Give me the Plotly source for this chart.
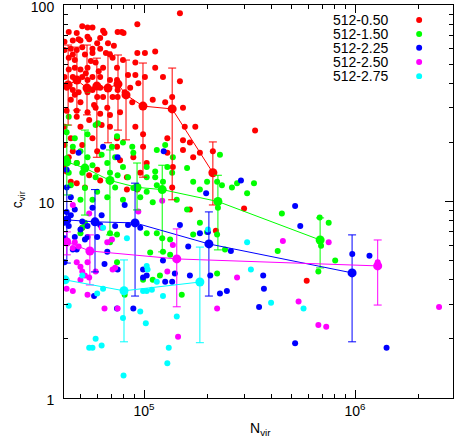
import plotly.graph_objects as go

labels = ["512-0.50", "512-1.50", "512-2.25", "512-2.50", "512-2.75"]
colors = ["#ff0000", "#00ff00", "#0000ff", "#ff00ff", "#00ffff"]

# ---- individual haloes (N_vir, c_vir) ----
red_n = [5.1e4, 5.4e4, 5.7e4, 4.4e4, 4.8e4, 6.4e4, 6.5e4, 7.5e4, 7.85e4, 8.0e4, 9.3e4, 1.48e5,
         4.2e4, 4.6e4, 5.0e4, 5.4e4, 5.5e4, 6.2e4, 6.75e4, 4.2e4, 4.5e4, 4.8e4, 5.1e4, 5.7e4,
         6.0e4, 6.2e4, 4.6e4, 5.25e4, 5.7e4, 9.3e4, 1.01e5, 1.13e5, 7.95e4, 7.1e4, 4.4e4, 4.7e4,
         5.0e4, 5.4e4, 6.4e4, 9.1e4, 7.45e4, 4.2e4, 4.6e4, 5.1e4, 5.4e4, 5.7e4, 6.2e4, 6.9e4,
         7.45e4, 9.1e4, 1.01e5, 1.13e5, 1.23e5, 1.48e5, 4.3e4, 4.6e4, 4.9e4, 5.4e4, 5.7e4, 6.2e4,
         6.75e4, 7.5e4, 8.1e4, 9.4e4, 4.5e4, 5.0e4, 6.0e4, 6.4e4, 7.1e4, 7.5e4, 8.8e4, 1.10e5,
         1.26e5, 1.36e5, 1.53e5, 4.3e4, 4.8e4, 5.4e4, 6.2e4, 6.9e4, 7.7e4, 9.1e4, 4.8e4, 5.5e4,
         6.3e4, 4.2e4, 5.0e4, 6.9e4, 1.56e5, 1.75e5, 7.45e4, 9.9e4, 4.5e4, 5.7e4, 1.29e5, 1.53e5,
         1.65e5, 7.45e4, 4.6e4, 6.0e4, 9.9e4, 1.29e5, 1.53e5, 1.84e5, 4.4e4, 7.7e4, 8.9e4, 1.71e5,
         4.8e4, 6.0e4, 1.03e5, 1.37e5, 5.5e4, 8.3e4, 9.6e4, 4.3e4, 4.8e4, 6.2e4, 8.3e4, 9.3e4,
         1.36e5, 1.65e5, 5.25e4, 4.5e4, 3.36e5, 2.98e5, 5.1e4, 2.19e5, 5.9e5, 2.12e5, 4.7e4, 5.9e4,
         6.9e4, 8.4e4, 6.7e4, 5.9e4, 5.1e4, 4.2e4, 4.2e4, 4.4e4, 5.3e4, 6.1e4, 7.2e4, 8.6e4,
         4.7e4, 5.6e4, 6.6e4, 4.9e4, 5.8e4]
red_c = [78, 77, 77, 73, 72, 74, 72, 73, 73, 72, 80, 91,
         65, 66, 66, 69, 67, 68, 64, 59, 60, 59, 61, 60,
         64, 60, 56, 56, 57, 57, 57, 58, 52.5, 54, 47, 48,
         47, 48, 48, 51, 48, 43, 43, 43, 41.5, 43, 43, 41.5,
         41.5, 44, 43, 48, 43, 41, 38, 37, 36, 36, 37, 38,
         38, 37, 36, 40, 33, 32, 34, 34, 34, 34, 32, 33,
         32, 34, 30, 29, 29, 28.5, 28, 27.6, 28.5, 24, 27, 26,
         24.5, 24, 24, 24, 24, 24, 21, 22, 21, 21, 21, 20.5,
         20, 19, 18, 18, 19, 17.7, 18.3, 17.7, 16.8, 16.2, 16.8, 16.8,
         15.7, 14.5, 15.7, 15, 13.6, 13.3, 14, 14.2, 12.4, 12.8, 11.5, 11.5,
         11.8, 9.1, 11.8, 12.6, 23, 9.2, 7.35, 7.1, 3.95, 18, 52.5, 51,
         56, 44, 30, 30, 19.4, 19.4, 15.3, 54, 45, 46, 62, 38,
         35, 52, 57, 67, 31]

green_n = [5.4e4, 4.4e4, 5.9e4, 6.05e4, 7.45e4, 4.3e4, 4.7e4, 5.4e4, 7.95e4, 8.8e4, 4.6e4, 7.05e4,
           1.26e5, 5.0e4, 5.4e4, 6.3e4, 7.3e4, 8.9e4, 1.15e5, 1.37e5, 4.3e4, 4.8e4, 5.7e4, 6.7e4,
           7.95e4, 1.03e5, 1.13e5, 1.29e5, 1.60e5, 2.29e5, 4.4e4, 5.1e4, 5.9e4, 6.9e4, 7.5e4, 8.4e4,
           1.03e5, 1.13e5, 1.36e5, 1.71e5, 2.22e5, 4.5e4, 5.25e4, 6.0e4, 7.3e4, 8.9e4, 1.03e5, 1.15e5,
           1.23e5, 1.84e5, 2.34e5, 5.0e4, 5.7e4, 6.7e4, 7.95e4, 9.6e4, 1.10e5, 1.43e5, 1.60e5, 2.24e5,
           1.99e5, 2.61e5, 2.76e5, 3.32e5, 3.08e5, 4.5e5, 6.8e5, 5.25e4, 6.9e4, 7.45e4, 1.03e5, 1.15e5,
           1.22e5, 1.33e5, 1.71e5, 1.84e5, 1.99e5, 2.22e5, 2.42e5, 1.07e5, 1.23e5, 1.33e5, 7.45e4, 9.9e4,
           1.10e5, 1.19e5, 2.22e5, 1.51e5, 8.1e4, 5.0e4, 5.1e4, 6.9e4, 7.5e5, 4.3e5, 6.9e5, 8.05e5,
           6.7e5]
green_c = [37, 27, 24.5, 25, 21.5, 22.5, 21, 22, 20, 19, 19, 19,
           19.4, 18, 16.8, 17.3, 16.8, 17.7, 18.3, 16.8, 16.6, 15.7, 15.3, 15.7,
           15, 15, 14.2, 15, 14.8, 17.3, 14, 14, 13.3, 14, 13.6, 13.3,
           13.3, 13.3, 14, 12.6, 12.6, 12.1, 11.7, 11.2, 11.8, 11.7, 11.2, 12.1,
           12.6, 11.5, 12.1, 10.2, 10.2, 10.5, 10.2, 10.5, 9.9, 10.2, 9.1, 9.3,
           12.6, 11.8, 12.4, 12.4, 11.0, 8.7, 8.3, 7.8, 6.9, 6.8, 6.9, 6.9,
           6.5, 6.4, 6.8, 7.8, 7.0, 6.8, 5.7, 5.5, 5.55, 5.35, 4.9, 4.0,
           4.0, 4.2, 4.3, 3.35, 3.35, 6.9, 7.35, 6.2, 7.8, 5.6, 5.95, 5.0,
           4.4]

blue_n = [6.4e4, 4.9e4, 7.5e4, 1.24e5, 4.3e4, 1.97e5, 4.3e4, 4.5e4, 4.3e4, 2.88e5, 5.2e5, 4.2e4,
          4.4e4, 4.6e4, 4.8e4, 4.7e4, 5.0e4, 5.1e4, 5.4e4, 5.4e4, 6.0e4, 6.2e4, 6.7e4, 6.5e4,
          7.3e4, 7.5e4, 8.4e4, 9.6e4, 9.9e4, 9.9e4, 1.03e5, 1.23e5, 1.26e5, 1.36e5, 1.40e5, 1.48e5,
          1.62e5, 1.65e5, 1.84e5, 2.06e5, 2.29e5, 2.47e5, 8.9e4, 7.45e4, 5.8e4, 4.2e4, 4.2e4, 2.01e5,
          2.58e5, 5.5e5, 3.67e5, 3.70e5, 3.51e5, 5.2e5, 9.7e5, 1.17e6, 1.41e6, 4.5e4, 4.7e4, 5.7e4,
          6.3e4, 8.1e4, 5.25e4]
blue_c = [19, 17.7, 16.8, 18, 14.5, 11.0, 11.8, 10.5, 8.85, 12.8, 9.5, 6.5,
          7.5, 5.7, 5.7, 6.6, 7.2, 7.9, 7.5, 6.6, 6.6, 7.6, 5.55, 4.8,
          7.5, 4.5, 7.6, 7.35, 4.5, 4.1, 4.2, 5.0, 3.9, 3.9, 4.3, 7.6,
          5.9, 4.2, 6.9, 4.2, 3.4, 3.5, 2.85, 2.85, 3.3, 4.9, 7.8, 7.0,
          5.6, 7.5, 4.2, 3.6, 2.9, 1.9, 5.4, 5.3, 1.8, 8.5, 9.1, 9.3,
          8.5, 9.6, 6.4]

magenta_n = [4.6e4, 5.5e4, 9.4e4, 1.22e5, 4.7e4, 4.6e4, 4.9e4, 6.3e4, 6.7e4, 7.05e4, 4.8e4, 5.0e4,
             5.1e4, 5.4e4, 5.5e4, 5.9e4, 7.1e4, 7.3e4, 5.0e4, 5.25e4, 4.3e4, 4.6e4, 5.4e4, 6.5e4,
             7.5e4, 1.37e5, 1.29e5, 1.45e5, 2.22e5, 4.55e5, 7.5e5, 2.76e5, 5.4e5, 6.7e5, 7.3e5, 1.28e6,
             2.5e6]
magenta_c = [9.6, 8.7, 8.9, 10.1, 6.2, 5.8, 5.9, 7.35, 6.2, 6.4, 4.9, 4.65,
             4.4, 4.9, 4.1, 4.4, 4.5, 4.6, 4.0, 4.2, 3.6, 3.5, 3.35, 2.85,
             2.85, 6.0, 4.4, 2.05, 2.85, 6.3, 6.2, 4.1, 3.1, 2.35, 2.3, 4.9,
             2.9]

cyan_n = [4.4e4, 5.1e4, 8.3e4, 1.03e5, 1.04e5, 1.15e5, 1.23e5, 9.9e4, 1.03e5, 1.09e5, 6.0e4, 6.4e4,
          7.95e4, 9.6e4, 1.02e5, 1.43e5, 5.9e4, 5.5e4, 5.7e4, 6.3e4, 1.31e5, 1.29e5, 8.0e4, 6.4e4,
          2.01e5, 3.08e5, 3.21e5, 4.0e5, 5.7e5]
cyan_c = [2.95, 4.2, 6.5, 4.7, 4.5, 3.9, 3.3, 3.5, 3.5, 3.55, 3.4, 3.6,
          2.55, 2.75, 2.4, 2.6, 2.0, 1.8, 1.8, 1.85, 1.8, 1.5, 1.3, 7.35,
          7.2, 6.2, 4.5, 3.05, 2.85]

# ---- binned means with spread (lo / hi) ----
red_mn = [4.37e4, 4.81e4, 5.37e4, 5.98e4, 6.75e4, 7.53e4, 8.22e4, 9.89e4, 1.36e5, 2.12e5]
red_mc = [39.2, 41.5, 37.8, 38.7, 37.8, 39.6, 34.9, 30.6, 29.6, 14.0]
red_hi = [62.6, 61.1, 62.6, 53.7, 57.7, 55.7, 52.5, 50.7, 47.8, 20.1]
red_lo = [24.5, 29.2, 27.6, 16.8, 19.9, 23.1, 20.6, 13.3, 10.2, 9.6]

green_mn = [4.31e4, 5.25e4, 6.90e4, 9.27e4, 1.22e5, 2.24e5, 6.83e5]
green_mc = [15.9, 14.8, 12.8, 11.8, 11.5, 10.0, 6.37]
green_hi = [24.5, 23.1, 18.3, 15.7, 15.3, 13.6, 8.25]
green_lo = [10.8, 8.53, 6.76, 9.06, 5.54, 5.67, 4.59]

blue_mn = [4.31e4, 5.86e4, 9.07e4, 2.03e5, 9.68e5]
blue_mc = [8.06, 7.88, 7.78, 6.08, 4.33]
blue_hi = [11.8, 11.5, 12.4, 8.85, 6.76]
blue_lo = [4.86, 4.38, 3.30, 3.30, 1.93]

magenta_mn = [4.31e4, 5.54e4, 1.43e5, 1.28e6]
magenta_mc = [6.22, 5.60, 5.10, 4.70]
magenta_hi = [7.0, 6.76, 7.25, 6.37]
magenta_lo = [5.35, 3.76, 2.91, 2.97]

cyan_mn = [4.23e4, 8.04e4, 1.84e5]
cyan_mc = [3.99, 3.51, 3.89]
cyan_hi = [3.99, 5.04, 5.86]
cyan_lo = [3.99, 1.93, 1.91]

scatter_sets = [(red_n, red_c), (green_n, green_c), (blue_n, blue_c),
                (magenta_n, magenta_c), (cyan_n, cyan_c)]
mean_sets = [(red_mn, red_mc, red_hi, red_lo), (green_mn, green_mc, green_hi, green_lo),
             (blue_mn, blue_mc, blue_hi, blue_lo), (magenta_mn, magenta_mc, magenta_hi, magenta_lo),
             (cyan_mn, cyan_mc, cyan_hi, cyan_lo)]

fig = go.Figure()

for (n, c), col, lab in zip(scatter_sets, colors, labels):
    fig.add_trace(go.Scatter(x=n, y=c, mode="markers", name=lab,
                             marker=dict(color=col, size=6, line_width=0), showlegend=False))

for (n, c, hi, lo), col in zip(mean_sets, colors):
    fig.add_trace(go.Scatter(
        x=n, y=c, mode="lines+markers", showlegend=False,
        line=dict(color=col, width=1),
        marker=dict(color=col, size=9, line_width=0),
        error_y=dict(type="data", symmetric=False,
                     array=[h - m for h, m in zip(hi, c)],
                     arrayminus=[m - l for m, l in zip(c, lo)],
                     color=col, thickness=1, width=4),
    ))

# legend drawn by hand, gnuplot style (text right-aligned, symbol to the right)
leg_y = [0.962, 0.926, 0.891, 0.855, 0.819]
for lab, col, yy in zip(labels, colors, leg_y):
    fig.add_annotation(x=0.838, y=yy, xref="paper", yref="paper", text=lab, showarrow=False,
                       xanchor="right", yanchor="middle", font=dict(size=14, color="black"))
    fig.add_shape(type="circle", xref="paper", yref="paper",
                  x0=0.913 - 0.0077, x1=0.913 + 0.0077, y0=yy - 0.0076, y1=yy + 0.0076,
                  fillcolor=col, line_width=0)

fig.add_annotation(x=-0.147, y=0.505, xref="paper", yref="paper", text="c<sub>vir</sub>",
                   showarrow=False, textangle=-90, font=dict(size=14, color="black"))
fig.add_annotation(x=0.504, y=-0.108, xref="paper", yref="paper", text="N<sub>vir</sub>",
                   showarrow=False, font=dict(size=14, color="black"))

x_minor = [5e4, 6e4, 7e4, 8e4, 9e4, 2e5, 3e5, 4e5, 5e5, 6e5, 7e5, 8e5, 9e5, 2e6]
y_minor = [2, 3, 4, 5, 6, 7, 8, 9, 20, 30, 40, 50, 60, 70, 80, 90]

fig.update_xaxes(type="log", range=[4.621, 6.464], showgrid=False, zeroline=False,
                 showline=True, linecolor="black", linewidth=1, mirror="allticks",
                 ticks="inside", ticklen=8, tickcolor="black", automargin=False,
                 ticklabeloverflow="allow",
                 tickvals=[1e5, 1e6], ticktext=["10<sup>5</sup>", "10<sup>6</sup>"],
                 minor=dict(tickvals=x_minor, ticks="inside", ticklen=4, tickcolor="black"))
fig.update_yaxes(type="log", range=[-0.0005, 2.0005], showgrid=False, zeroline=False,
                 showline=True, linecolor="black", linewidth=1, mirror="allticks",
                 ticks="inside", ticklen=8, tickcolor="black", automargin=False,
                 ticklabeloverflow="allow", ticklabelshift=2,
                 tickvals=[1, 10, 100], ticktext=["1", "10", "100"], ticklabelstandoff=6,
                 minor=dict(tickvals=y_minor, ticks="inside", ticklen=4, tickcolor="black"))

fig.update_layout(width=458, height=442, margin=dict(l=64, r=5, t=5, b=44),
                  plot_bgcolor="white", paper_bgcolor="white",
                  font=dict(family="Liberation Sans, Arial, sans-serif", size=14, color="black"))

# the page body has a default 8px margin; drop it so the figure sits at the window corner
fig.write_html("out.html", config={"displayModeBar": False},
               post_script="document.body.style.margin='0';")
